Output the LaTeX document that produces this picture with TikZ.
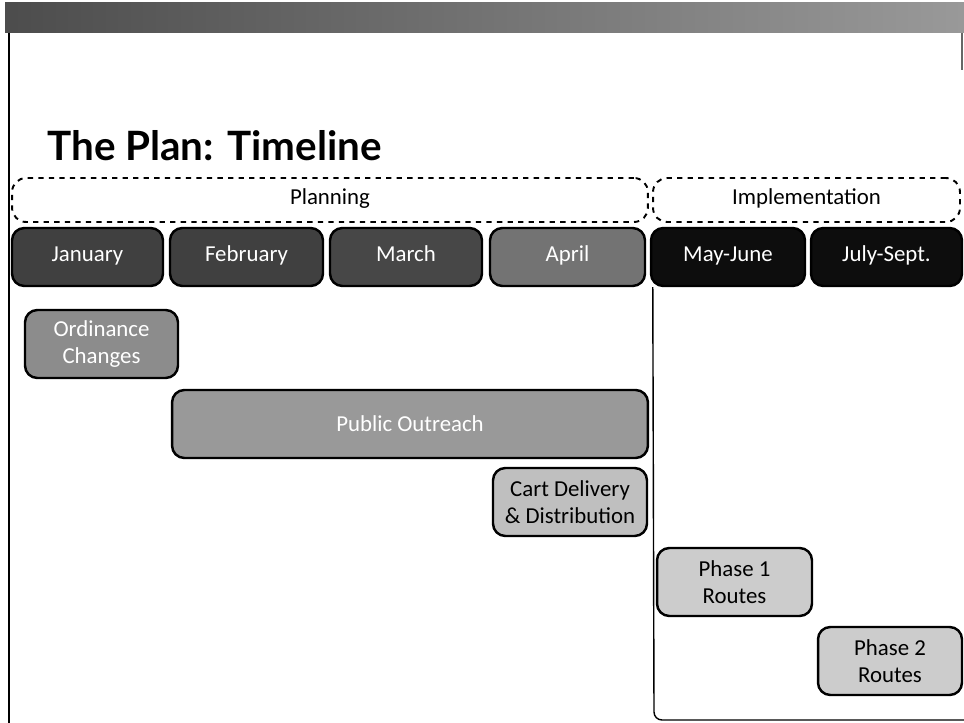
\documentclass[tikz,border=0pt]{standalone}
\usepackage{fontspec}
\setmainfont{Carlito}
\newfontfamily\titlefont{Lato}
\usetikzlibrary{shadings}
\begin{document}
\begin{tikzpicture}[x=0.02cm,y=-0.02cm,
  box/.style={draw=black, line width=1.4pt, rounded corners=7pt, inner sep=2pt, align=center, font=\fontsize{13}{15}\selectfont},
  month/.style={box, minimum height=1.16cm, text=white, text height=0.7em, text depth=0.22em},
  phasebox/.style={draw=black, dashed, line width=1.1pt, rounded corners=8pt, minimum height=0.88cm, text height=0.7em, text depth=0.22em, font=\fontsize{13}{14}\selectfont},
  task/.style={box, minimum height=1.36cm},
  frame/.style={draw=black, line width=1.2pt}
]
\useasboundingbox (0,0) rectangle (964,723);
% top band
\shade[left color=black!70, right color=black!40] (5,3) rectangle (964,33);
% left border
\draw[frame] (9,33) -- (9,723);
\draw[black!60, line width=0.6pt] (962,33) -- (962,70);
% title
\node[anchor=base west, inner sep=0, font=\titlefont\bfseries\fontsize{23}{26}\selectfont] (title) at (47,160) {The Plan: Timeline};
% phases
\node[phasebox, minimum width=12.72cm] (planning) at (330,200) {Planning};
\node[phasebox, minimum width=6.14cm] (impl) at (806.5,200) {Implementation};
% months
\node[month, fill=black!75, minimum width=3.02cm] (jan) at (87.5,257) {January};
\node[month, fill=black!75, minimum width=3.06cm] (feb) at (246.5,257) {February};
\node[month, fill=black!72, minimum width=3.04cm] (mar) at (406,257) {March};
\node[month, fill=black!55, minimum width=3.10cm] (apr) at (567.5,257) {April};
\node[month, fill=black!95, minimum width=3.08cm] (may) at (728,257) {May-June};
\node[month, fill=black!95, minimum width=3.02cm] (jul) at (886.5,257) {July-Sept.};
% implementation frame
\coordinate (vb) at (654,712);
\coordinate (hb) at (662,720);
\coordinate (he) at (964,720);
\draw[line width=0.8pt] (may.south west) ++(3,0) coordinate (vt) -- (vb) to[out=-90,in=180] (hb) -- (he);
% tasks
\node[task, fill=black!45, text=white, minimum width=3.06cm] (ord) at (101.5,344) {Ordinance\\Changes};
\node[task, fill=black!40, text=white, minimum width=9.52cm] (pub) at (410,424) {Public Outreach};
\node[task, fill=black!25, minimum width=3.08cm] (cart) at (570,502) {Cart Delivery\\\& Distribution};
\node[task, fill=black!20, minimum width=3.10cm] (ph1) at (734.5,582) {Phase 1\\Routes};
\node[task, fill=black!20, minimum width=2.88cm] (ph2) at (890,661) {Phase 2\\Routes};
\end{tikzpicture}
\end{document}
